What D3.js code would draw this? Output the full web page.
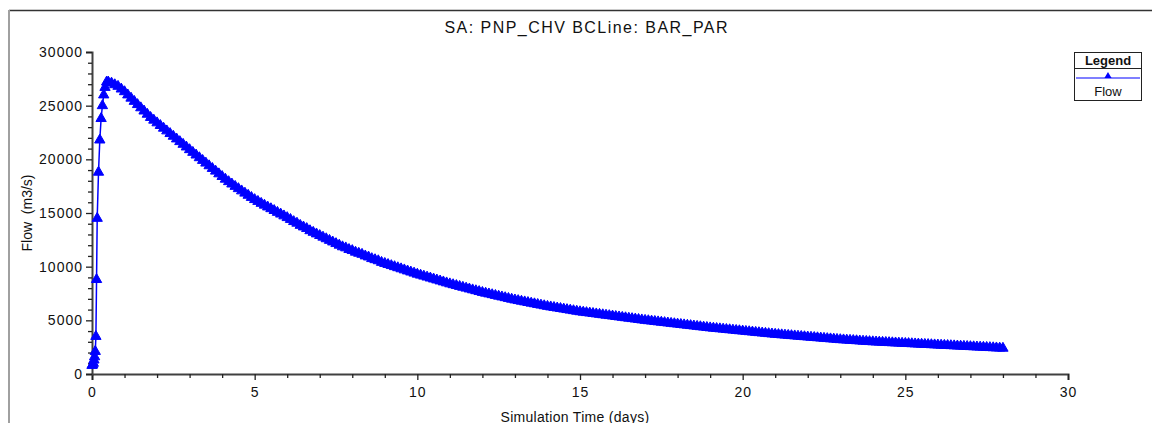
<!DOCTYPE html>
<html>
<head>
<meta charset="utf-8">
<script src="https://cdn.jsdelivr.net/npm/d3@7"></script>
<style>
  html, body { margin: 0; padding: 0; background: #fff; }
  svg { display: block; font-family: "Liberation Sans", Arial, sans-serif; }
</style>
</head>
<body>
<svg id="chart" width="1152" height="423"></svg>
<script>
// ---------- data ----------
const title = "SA: PNP_CHV BCLine: BAR_PAR";
const xLabel = "Simulation Time (days)";
const yLabel = "Flow  (m3/s)";
const seriesName = "Flow";

const xTicks = [0, 5, 10, 15, 20, 25, 30];
const xMinorTicks = [1,2,3,4,6,7,8,9,11,12,13,14,16,17,18,19,21,22,23,24,26,27,28,29];
const yTicks = [0, 5000, 10000, 15000, 20000, 25000, 30000];
const yMinorTicks = [1000,2000,3000,4000,6000,7000,8000,9000,11000,12000,13000,14000,16000,17000,18000,19000,21000,22000,23000,24000,26000,27000,28000,29000];

// rising limb (days, m3/s)
const riseTimes  = [0, 0.02, 0.04, 0.06, 0.08, 0.10, 0.12, 0.14, 0.16, 0.20, 0.24, 0.28, 0.32, 0.36, 0.40, 0.45];
const riseValues = [800, 850, 1000, 1300, 1600, 2100, 3500, 8800, 14500, 18800, 21800, 23800, 25000, 26000, 26700, 27200];

// recession limb, every 0.1 day from 0.5 to 28.0
const recessionStart = 0.5;
const recessionStep = 0.1;
const recessionValues = [
  27200, 27100, 26950, 26800, 26550, 26300,
  26000, 25700, 25400, 25100, 24800, 24500, 24200, 23900, 23650, 23400,
  23150, 22900, 22650, 22400, 22150, 21900, 21650, 21400, 21150, 20900,
  20650, 20400, 20150, 19900, 19650, 19400, 19150, 18900, 18650, 18400,
  18150, 17920, 17700, 17480, 17270, 17060, 16850, 16650, 16450, 16250,
  16080, 15900, 15730, 15560, 15400, 15230, 15060, 14900, 14730, 14570,
  14400, 14200, 14050, 13850, 13700, 13550, 13350, 13200, 13050, 12900,
  12750, 12600, 12450, 12300, 12150, 12000, 11850, 11750, 11600, 11500,
  11350, 11250, 11150, 11000, 10900, 10750, 10650, 10550, 10400, 10300,
  10200, 10100, 10000, 9900, 9800, 9700, 9600, 9500, 9400, 9300,
  9210, 9120, 9030, 8940, 8850, 8760, 8670, 8580, 8490, 8400,
  8320, 8240, 8160, 8080, 8000, 7920, 7840, 7760, 7680, 7600,
  7530, 7460, 7390, 7320, 7250, 7180, 7110, 7040, 6970, 6900,
  6840, 6780, 6720, 6660, 6600, 6540, 6480, 6420, 6360, 6300,
  6250, 6200, 6150, 6100, 6050, 6000, 5950, 5900, 5850, 5800,
  5760, 5720, 5680, 5640, 5600, 5560, 5520, 5480, 5440, 5400,
  5360, 5320, 5280, 5240, 5200, 5160, 5120, 5080, 5040, 5000,
  4965, 4930, 4895, 4860, 4825, 4790, 4755, 4720, 4685, 4650,
  4615, 4580, 4545, 4510, 4475, 4440, 4405, 4370, 4335, 4300,
  4270, 4240, 4210, 4180, 4150, 4120, 4090, 4060, 4030, 4000,
  3970, 3940, 3910, 3880, 3850, 3820, 3790, 3760, 3730, 3700,
  3675, 3650, 3625, 3600, 3575, 3550, 3525, 3500, 3475, 3450,
  3425, 3400, 3375, 3350, 3325, 3300, 3275, 3250, 3225, 3200,
  3180, 3160, 3140, 3120, 3100, 3080, 3060, 3040, 3020, 3000,
  2985, 2970, 2955, 2940, 2925, 2910, 2895, 2880, 2865, 2850,
  2835, 2820, 2805, 2790, 2775, 2760, 2745, 2730, 2715, 2700,
  2685, 2670, 2655, 2640, 2625, 2610, 2595, 2580, 2565, 2550,
  2535, 2520, 2505, 2490, 2475, 2460, 2445, 2430, 2415, 2400
];

// ---------- build ----------
const data = riseTimes.map((t, i) => ({ t, v: riseValues[i] }))
  .concat(recessionValues.map((v, i) => ({ t: recessionStart + i * recessionStep, v })));

const svg = d3.select("#chart");
const W = 1152, H = 423;
const axisColor = "#404040";
const blue = "#0000ff";

// outer frame
svg.append("line").attr("x1", 9).attr("x2", W).attr("y1", 10.5).attr("y2", 10.5)
  .attr("stroke", "#333").attr("stroke-width", 1.5);
svg.append("line").attr("x1", 9).attr("x2", 9).attr("y1", 10).attr("y2", H)
  .attr("stroke", "#a0a0a0").attr("stroke-width", 2);

const x = d3.scaleLinear().domain([0, 30]).range([92, 1068]);
const y = d3.scaleLinear().domain([0, 30000]).range([374, 52]);

// title
svg.append("text").attr("x", 586).attr("y", 33).attr("text-anchor", "middle")
  .attr("font-size", 16).attr("fill", "#111")
  .attr("textLength", 283).attr("lengthAdjust", "spacing")
  .text(title);

// x axis
const gx = svg.append("g").attr("transform", `translate(0,${y(0)})`);
gx.call(d3.axisBottom(x).tickValues(xTicks).tickSize(6).tickPadding(4).tickFormat(d3.format("d")));
const gxm = svg.append("g").attr("transform", `translate(0,${y(0)})`);
gxm.call(d3.axisBottom(x).tickValues(xMinorTicks).tickSize(4).tickFormat(""));
gxm.select(".domain").remove();

// y axis
const gy = svg.append("g").attr("transform", `translate(${x(0)},0)`);
gy.call(d3.axisLeft(y).tickValues(yTicks).tickSize(6).tickPadding(3).tickFormat(d3.format("d")));
const gym = svg.append("g").attr("transform", `translate(${x(0)},0)`);
gym.call(d3.axisLeft(y).tickValues(yMinorTicks).tickSize(4).tickFormat(""));
gym.select(".domain").remove();

[gx, gxm, gy, gym].forEach(g => {
  g.selectAll(".domain").attr("stroke", axisColor).attr("stroke-width", 2);
  g.selectAll(".tick line").attr("stroke", "#222").attr("stroke-width", 1.3);
  g.selectAll(".tick text").attr("font-size", 14).attr("fill", "#111")
    .attr("font-family", "'Liberation Sans', Arial, sans-serif")
    .style("letter-spacing", "1px");
});
gx.selectAll(".tick text").attr("dy", "0.9em");

// axis labels
svg.append("text").attr("x", 575).attr("y", 422).attr("text-anchor", "middle")
  .attr("font-size", 14).attr("fill", "#111").style("letter-spacing", "0.3px").text(xLabel);
svg.append("text").attr("transform", `translate(32,${(y(0) + y(30000)) / 2}) rotate(-90)`)
  .attr("text-anchor", "middle").attr("font-size", 14).attr("fill", "#111")
  .style("white-space", "pre").text(yLabel);

// series line
const line = d3.line().x(d => x(d.t)).y(d => y(d.v));
svg.append("path").datum(data).attr("d", line)
  .attr("fill", "none").attr("stroke", blue).attr("stroke-width", 1.5);

// markers
const tri = d3.symbol().type(d3.symbolTriangle).size(46);
svg.append("g").selectAll("path").data(data).join("path")
  .attr("transform", d => `translate(${x(d.t)},${y(d.v)})`)
  .attr("d", tri).attr("fill", blue).attr("stroke", blue).attr("stroke-width", 1);

// legend
const lg = svg.append("g");
lg.append("rect").attr("x", 1074.5).attr("y", 52.5).attr("width", 67).attr("height", 48)
  .attr("fill", "#fff").attr("stroke", "#222").attr("stroke-width", 1);
lg.append("line").attr("x1", 1074.5).attr("x2", 1141.5).attr("y1", 68.5).attr("y2", 68.5)
  .attr("stroke", "#222").attr("stroke-width", 1);
lg.append("text").attr("x", 1108).attr("y", 65).attr("text-anchor", "middle")
  .attr("font-size", 13).attr("font-weight", "bold").attr("fill", "#111").text("Legend");
lg.append("line").attr("x1", 1076).attr("x2", 1140).attr("y1", 78).attr("y2", 78)
  .attr("stroke", blue).attr("stroke-width", 1.2);
lg.append("path").attr("transform", "translate(1108,76)").attr("d", d3.symbol().type(d3.symbolTriangle).size(22))
  .attr("fill", blue);
lg.append("text").attr("x", 1108).attr("y", 96).attr("text-anchor", "middle")
  .attr("font-size", 13).attr("fill", "#111").text(seriesName);
</script>
</body>
</html>
